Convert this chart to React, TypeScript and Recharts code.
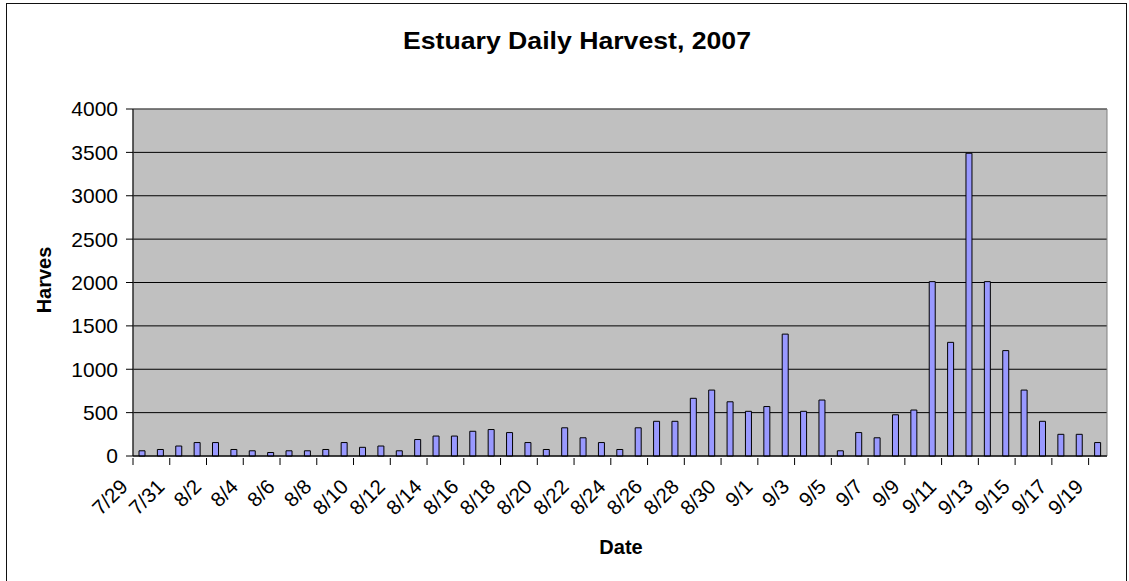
import React from 'react';
import { BarChart, Bar, XAxis, YAxis, CartesianGrid, ReferenceArea } from 'recharts';

const dates = [
  '7/29', '7/30', '7/31',
  '8/1', '8/2', '8/3', '8/4', '8/5', '8/6', '8/7', '8/8', '8/9', '8/10',
  '8/11', '8/12', '8/13', '8/14', '8/15', '8/16', '8/17', '8/18', '8/19', '8/20',
  '8/21', '8/22', '8/23', '8/24', '8/25', '8/26', '8/27', '8/28', '8/29', '8/30', '8/31',
  '9/1', '9/2', '9/3', '9/4', '9/5', '9/6', '9/7', '9/8', '9/9', '9/10',
  '9/11', '9/12', '9/13', '9/14', '9/15', '9/16', '9/17', '9/18', '9/19',
];

const harvest = [
  60, 75, 115,
  155, 155, 75, 60, 40, 60, 60, 75, 155, 100,
  115, 60, 190, 230, 230, 285, 305, 270, 155, 75,
  325, 210, 155, 75, 325, 400, 400, 665, 760, 625, 515,
  570, 1405, 515, 645, 60, 270, 210, 475, 530, 2010,
  1310, 3490, 2010, 1215, 760, 400, 250, 250, 155,
];

const yTicks = [0, 500, 1000, 1500, 2000, 2500, 3000, 3500, 4000];

const title = 'Estuary Daily Harvest, 2007';
const xTitle = 'Date';
const yTitle = 'Harves';

const data = dates.map((d, i) => ({ date: d, harvest: harvest[i] }));

const FONT = '"Liberation Sans", Arial, sans-serif';

const DateTick = (props: any) => {
  const { x, y, payload } = props;
  const off = payload && typeof payload.offset === 'number' ? payload.offset : 9.18;
  const bx = x - off;
  return (
    <g>
      <line x1={bx} y1={y} x2={bx} y2={y + 7} stroke="#000" strokeWidth={1} />
      <text
        x={0}
        y={0}
        transform={`translate(${bx - 4},${y + 30}) rotate(-45)`}
        textAnchor="end"
        fontSize={20.5}
        fontFamily={FONT}
        fill="#000"
      >
        {payload.value}
      </text>
    </g>
  );
};

export default function App() {
  return (
    <div style={{ position: 'absolute', left: 0, top: 0, width: 1129, height: 581, background: '#fff', overflow: 'hidden' }}>
      <svg width={1129} height={581} style={{ position: 'absolute', left: 0, top: 0 }}>
        <rect x={6.5} y={3.5} width={1120} height={620} fill="#fff" stroke="#111" strokeWidth={1} />
        <text
          x={577}
          y={49}
          textAnchor="middle"
          fontSize={24}
          fontWeight="bold"
          fontFamily={FONT}
          fill="#000"
          textLength={348}
          lengthAdjust="spacingAndGlyphs"
        >
          {title}
        </text>
        <text x={621} y={554} textAnchor="middle" fontSize={20} fontWeight="bold" fontFamily={FONT} fill="#000">
          {xTitle}
        </text>
        <text
          x={0}
          y={0}
          transform="translate(51,280) rotate(-90)"
          textAnchor="middle"
          fontSize={20}
          fontWeight="bold"
          fontFamily={FONT}
          fill="#000"
        >
          {yTitle}
        </text>
      </svg>
      <div style={{ position: 'absolute', left: 0, top: 0 }}>
        <BarChart
          width={1129}
          height={581}
          data={data}
          margin={{ top: 109, right: 22, left: 0, bottom: 0 }}
          barSize={6}
        >
          <CartesianGrid vertical={false} fill="#C0C0C0" stroke="#000" strokeOpacity={1} />
          <ReferenceArea
            x1={dates[0]}
            x2={dates[dates.length - 1]}
            y1={0}
            y2={4000}
            fill="none"
            fillOpacity={0}
            stroke="#808080"
            strokeWidth={1}
            ifOverflow="visible"
          />
          <XAxis
            dataKey="date"
            interval={1}
            height={125}
            tickSize={0}
            tickLine={false}
            axisLine={{ stroke: '#000' }}
            tick={<DateTick />}
          />
          <YAxis
            width={133}
            domain={[0, 4000]}
            ticks={yTicks}
            interval={0}
            tickSize={7}
            tickMargin={8}
            axisLine={{ stroke: '#000' }}
            tickLine={{ stroke: '#000' }}
            tick={{ fontSize: 21, fill: '#000', fontFamily: FONT }}
          />
          <Bar dataKey="harvest" fill="#9999FF" stroke="#000" strokeWidth={1} isAnimationActive={false} />
        </BarChart>
      </div>
    </div>
  );
}
